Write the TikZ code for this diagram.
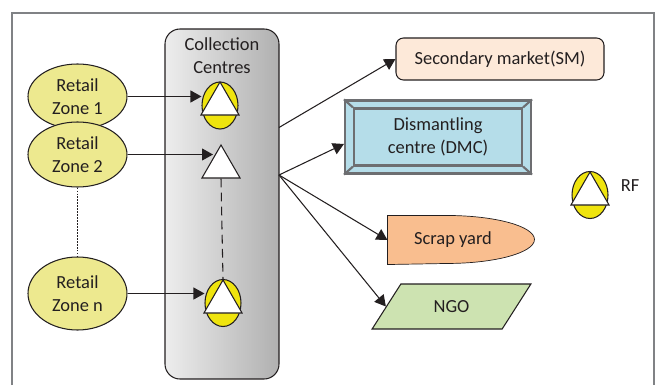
\documentclass[tikz,border=0pt]{standalone}
\usepackage{fontspec}
\setmainfont{Carlito}
\usepackage{tikz}
\usetikzlibrary{arrows.meta,shapes.geometric,calc,backgrounds}
\definecolor{zonefill}{HTML}{EDE98F}
\definecolor{rfyellow}{HTML}{EFE40E}
\definecolor{smfill}{HTML}{FDE9D9}
\definecolor{dmcfill}{HTML}{B5DDE9}
\definecolor{scrapfill}{HTML}{F9BE8F}
\definecolor{ngofill}{HTML}{CDE3B1}
\definecolor{inkdark}{HTML}{231F20}
\definecolor{framegray}{HTML}{808285}
\definecolor{dmcedge}{HTML}{6D6E71}

\begin{document}
\begin{tikzpicture}[line width=.6pt,every node/.style={font=\fontsize{10.5}{13}\selectfont,text=inkdark}]

\tikzset{zone/.style={
  ellipse,
  inner sep=0pt,
  align=center,
  draw=inkdark, fill=zonefill,
  minimum width=19.8mm,
  minimum height=13mm
  }}
\tikzset{rfcirc/.style={
  ellipse,
  inner sep=0pt,
  draw=inkdark, fill=rfyellow,
  minimum width=7.2mm,
  minimum height=9.4mm
  }}
\tikzset{rftri/.style={
  regular polygon,
  regular polygon sides=3,
  inner sep=0pt,
  draw=inkdark, fill=white,
  minimum size=8.8mm
  }}
\tikzset{conn/.style={
  draw=inkdark,
  -{Triangle[length=2.2mm,width=2.4mm]}
  }}

\useasboundingbox (0,0) rectangle (13.2,7.7);
\draw[framegray,line width=.8pt] (.24,0) -- (.24,7.44) -- (13.08,7.44) -- (13.08,0);

\node[rectangle,rounded corners=3mm,draw=inkdark,left color=gray!14,right color=gray!62,
  minimum width=22.8mm,minimum height=70mm](hub) at (4.44,3.62) {};
\node[align=center](hubtext) at (4.44,6.58) {Collection\\Centres};
\coordinate (hubA) at (5.58,5.15);
\coordinate (hubB) at (5.58,4.2);

\node[zone](zone1) at (1.55,5.77) {Retail\\Zone 1};
\node[zone](zone2) at (1.55,4.61) {Retail\\Zone 2};
\node[zone,minimum height=14.6mm](zonen) at (1.55,1.83) {Retail\\Zone n};

\node[rfcirc](rf1) at (4.4,5.59) {};
\node[rftri](tri1) at (4.4,5.62) {};
\node[rftri](tri2) at (4.42,4.36) {};
\node[rfcirc](rf3) at (4.46,1.64) {};
\node[rftri](tri3) at (4.46,1.66) {};
\node[rfcirc](rf4) at (11.8,3.8) {};
\node[rftri](tri4) at (11.8,3.82) {};
\node(rflabel) at (12.6,3.98) {RF};

\node[rectangle,rounded corners=1.5mm,draw=inkdark,fill=smfill,
  minimum width=41.6mm,minimum height=8.4mm](sm) at (10,6.52) {Secondary market(SM)};

\node[rectangle,draw=dmcedge,line width=1.2pt,fill=dmcfill,
  minimum width=37.2mm,minimum height=14.6mm](dmc) at (8.76,4.96) {};
\node[rectangle,draw=dmcedge,line width=1.2pt,align=center,
  minimum width=33.6mm,minimum height=11.4mm](dmcin) at (8.76,4.96) {Dismantling\\centre (DMC)};
\foreach \c in {north west,north east,south west,south east}
  \path[draw=dmcedge,line width=1.2pt] (dmc.\c) -- (dmcin.\c);

\node[minimum width=26mm,minimum height=9.6mm,inner sep=0pt](scrap) at (9.06,2.9) {Scrap yard};
\begin{scope}[on background layer]
\path[draw=inkdark,fill=scrapfill] (scrap.north west) -- ++(1.18,0)
  arc[x radius=1.76,y radius=.48,start angle=90,end angle=-90] -- (scrap.south west) -- cycle;
\end{scope}

\node[trapezium,trapezium left angle=50,trapezium right angle=130,trapezium stretches=true,
  inner sep=0pt,draw=inkdark,fill=ngofill,minimum width=31.8mm,minimum height=9mm](ngo) at (9.03,1.57) {NGO};

\path[draw,conn] (zone1.east) -- (zone1.east -| rf1.west);
\path[draw,conn] (zone2.east) -- ($(zone2.east -| tri2.center)+(-.16,0)$);
\path[draw,conn] (zonen.east) -- (zonen.east -| rf3.west);
\path[draw=inkdark,dash pattern=on 5pt off 3pt] (tri2.south) -- (tri3.north);
\path[draw=inkdark,densely dotted,line width=.7pt] (zone2.south) -- (zone2.south |- zonen.north);

\path[draw,conn] (hubA) -- (sm.west);
\path[draw,conn] (hubB) -- ($(dmc.west)+(0,-.14)$);
\path[draw,conn] (hubB) -- (scrap.west);
\path[draw,conn] (hubB) -- (ngo.west);
\end{tikzpicture}
\end{document}
